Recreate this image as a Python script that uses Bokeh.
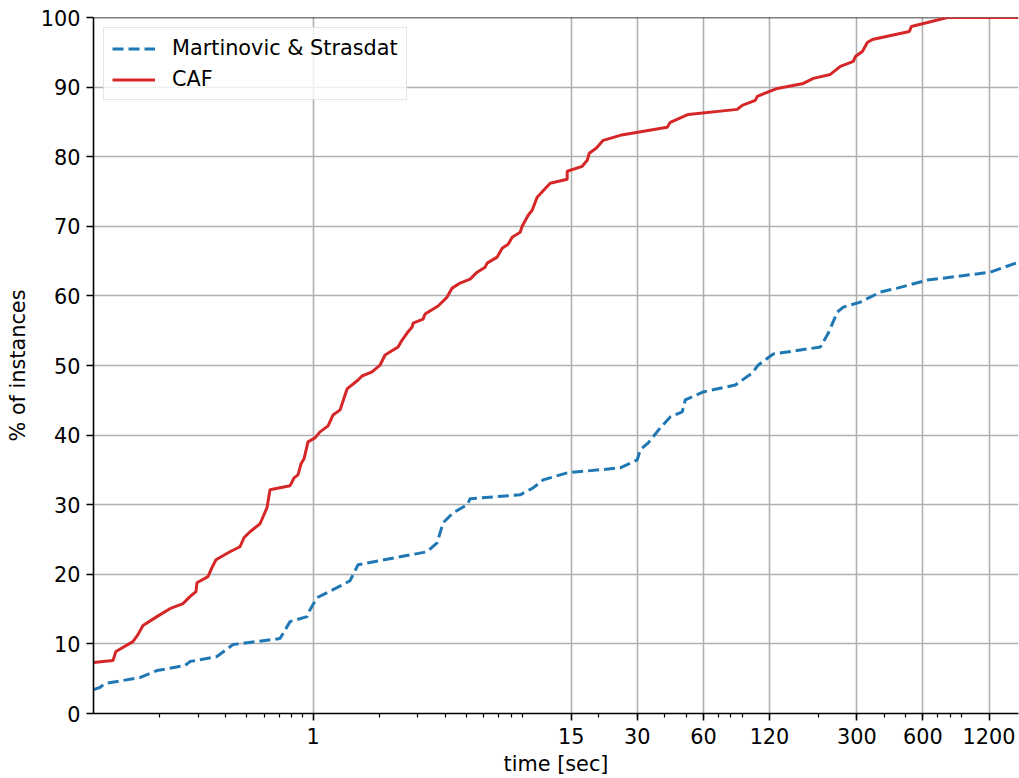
from bokeh.plotting import figure
from bokeh.models import FixedTicker, Span, Legend, LegendItem, NumeralTickFormatter
from bokeh.embed import file_html
from bokeh.resources import INLINE

# ---- data ----
caf_time = [0.1, 0.1226, 0.1265, 0.1512, 0.1594, 0.168, 0.1945, 0.2229, 0.2556, 0.275,
            0.2929, 0.296, 0.3322, 0.3465, 0.3613, 0.4183, 0.4648, 0.4847, 0.5163, 0.5734,
            0.617, 0.6368, 0.7855, 0.8192, 0.8543, 0.8817, 0.9098, 0.9489, 1.021, 1.076,
            1.171, 1.234, 1.328, 1.429, 1.604, 1.672, 1.857, 2.02, 2.129, 2.44,
            2.545, 2.682, 2.827, 2.857, 3.172, 3.239, 3.713, 4.081, 4.301, 4.677,
            5.195, 5.592, 6.081, 6.21, 6.898, 7.269, 7.743, 8.075, 8.781, 8.967,
            9.548, 9.958, 10.49, 12.03, 14.38, 14.38, 16.83, 17.74, 18.11, 19.49,
            20.98, 25.07, 41.07, 42.39, 51.2, 85.6, 90.2, 103.4, 105.6, 130.2,
            171.2, 190.1, 227.2, 252.5, 289.3, 295.4, 317.9, 335.0, 353.1, 520.5,
            531.6, 629, 776, 1635]
caf_pct = [7.32, 7.60, 8.90, 10.33, 11.33, 12.63, 13.92, 15.06, 15.78, 16.79,
           17.50, 18.79, 19.66, 20.95, 22.09, 23.24, 23.96, 25.25, 26.11, 27.26,
           29.56, 32.14, 32.71, 33.86, 34.29, 35.87, 36.59, 39.02, 39.60, 40.46,
           41.32, 42.90, 43.62, 46.63, 47.92, 48.49, 49.07, 50.07, 51.51, 52.65,
           53.66, 54.66, 55.52, 56.10, 56.67, 57.39, 58.54, 59.83, 61.12, 61.84,
           62.41, 63.41, 64.13, 64.71, 65.57, 66.86, 67.43, 68.44, 69.15, 70.01,
           71.59, 72.31, 74.18, 76.18, 76.76, 77.91, 78.62, 79.48, 80.49, 81.21,
           82.35, 83.07, 84.22, 84.94, 86.08, 86.80, 87.37, 88.09, 88.67, 89.81,
           90.53, 91.25, 91.82, 92.97, 93.69, 94.40, 95.12, 96.41, 96.84, 97.99,
           98.71, 99.28, 100, 100]

ms_time = [0.1, 0.1069, 0.1127, 0.1627, 0.1945, 0.261, 0.275, 0.365, 0.4318, 0.7072,
           0.7855, 0.939, 0.969, 1.043, 1.286, 1.475, 1.604, 3.308, 3.674, 3.912,
           4.346, 5.034, 5.195, 8.781, 10.06, 11.18, 14.38, 25.07, 29.98, 30.94,
           33.65, 38.16, 42.39, 48.07, 49.61, 59.94, 83.84, 100.2, 106.7, 124.9,
           204.6, 222.5, 244.5, 260.4, 311.3, 384.0, 459.0, 629, 1218, 1635]
ms_pct = [3.44, 3.73, 4.30, 5.16, 6.17, 6.89, 7.46, 8.18, 9.90, 10.76,
          13.20, 13.92, 14.92, 16.64, 18.08, 19.08, 21.38, 23.24, 24.53, 27.40,
          28.84, 29.99, 30.85, 31.42, 32.42, 33.57, 34.58, 35.29, 36.44, 37.88,
          38.88, 41.03, 42.61, 43.33, 45.05, 46.20, 47.20, 48.92, 50.07, 51.65,
          52.65, 54.66, 57.68, 58.39, 59.11, 60.55, 61.12, 62.27, 63.41, 64.85]

x_major_ticks = [1, 15, 30, 60, 120, 300, 600, 1200]
x_minor_ticks = [0.2, 0.3, 0.4, 0.5, 0.6, 0.7, 0.8, 0.9,
                 2, 3, 4, 5, 6, 7, 8, 9,
                 20, 30, 40, 50, 60, 70, 80, 90,
                 200, 300, 400, 500, 600, 700, 800, 900]
y_ticks = [0, 10, 20, 30, 40, 50, 60, 70, 80, 90, 100]

series_labels = ["Martinovic & Strasdat", "CAF"]

FONT = "DejaVu Sans"
FS = "20.8px"

p = figure(width=1019, height=778, x_axis_type="log",
           x_range=(0.1, 1635), y_range=(0, 100),
           output_backend="svg", toolbar_location=None,
           min_border_left=93, min_border_top=17, min_border_right=1,
           min_border_bottom=10)

p.background_fill_color = "white"
p.border_fill_color = "white"
p.outline_line_color = None

p.xaxis.ticker = FixedTicker(ticks=x_major_ticks, minor_ticks=x_minor_ticks)
p.yaxis.ticker = FixedTicker(ticks=y_ticks)
p.xgrid.ticker = FixedTicker(ticks=x_major_ticks)
p.ygrid.ticker = FixedTicker(ticks=y_ticks)
p.xaxis.formatter = NumeralTickFormatter(format="0")

for g in (p.xgrid, p.ygrid):
    g.grid_line_color = "#b0b0b0"
    g.grid_line_width = 1.6

for ax in (p.xaxis, p.yaxis):
    ax.axis_line_color = "black"
    ax.axis_line_width = 1.6
    ax.major_tick_line_color = "black"
    ax.major_tick_line_width = 1.6
    ax.major_tick_in = 0
    ax.major_tick_out = 7
    ax.minor_tick_line_color = "black"
    ax.minor_tick_line_width = 1.2
    ax.minor_tick_in = 0
    ax.minor_tick_out = 4
    ax.major_label_text_font = FONT
    ax.major_label_text_font_size = FS
    ax.major_label_text_color = "black"
    ax.axis_label_text_font = FONT
    ax.axis_label_text_font_size = FS
    ax.axis_label_text_font_style = "normal"
    ax.axis_label_text_color = "black"

p.xaxis.major_label_standoff = 7
p.yaxis.major_label_standoff = 6
p.xaxis.axis_label = "time [sec]"
p.yaxis.axis_label = "% of instances"
p.xaxis.axis_label_standoff = 5
p.yaxis.axis_label_standoff = 8

top_spine = Span(location=100, dimension="width", line_color="black",
                 line_width=1.6, level="underlay")
p.add_layout(top_spine)

r_ms = p.line(ms_time, ms_pct, line_color="#1f77b4", line_width=3,
              line_dash="11 5")
r_caf = p.line(caf_time, caf_pct, line_color="#d62728", line_width=3)

legend = Legend(items=[LegendItem(label=series_labels[0], renderers=[r_ms]),
                       LegendItem(label=series_labels[1], renderers=[r_caf])],
                location="top_left")
legend.label_text_font = FONT
legend.label_text_font_size = FS
legend.label_text_color = "black"
legend.glyph_width = 43
legend.glyph_height = 23
legend.label_height = 23
legend.label_standoff = 17
legend.padding = 8
legend.spacing = 7
legend.margin = 10
legend.border_line_color = "#cccccc"
legend.border_line_width = 1.5
legend.background_fill_color = "white"
legend.background_fill_alpha = 0.8
p.add_layout(legend)

open("out.html", "w").write(file_html(p, INLINE))
